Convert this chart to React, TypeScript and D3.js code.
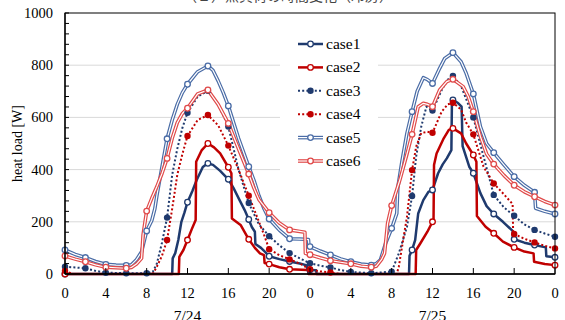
import React from 'react';
import * as d3 from 'd3';

type P = [number, number];

const seriesNames = ['case1', 'case2', 'case3', 'case4', 'case5', 'case6'];
const yTickValues = [0, 200, 400, 600, 800, 1000];
const xTickHours = [0, 4, 8, 12, 16, 20, 24, 28, 32, 36, 40, 44, 48];
const xTickLabels = ['0', '4', '8', '12', '16', '20', '0', '4', '8', '12', '16', '20', '0'];
const dateHours = [12, 36];
const dateLabels = ['7/24', '7/25'];
const titleText = '（２）熱負荷の時間変化（冷房）';
const yAxisTitle = 'heat load [W]';

const case1: P[] = [
  [0, 0], [10.5, 0], [10.55, 60], [10.8, 80], [11.1, 130], [11.4, 200], [11.7, 235], [12, 275], [12.5, 320],
  [12.9, 360], [13.5, 410], [14, 424], [14.5, 418], [15.2, 395], [16, 363], [16.5, 330], [17.1, 283],
  [17.6, 245], [18, 209], [18.3, 180], [18.6, 162], [18.65, 115], [19.2, 100], [19.6, 85], [20, 68],
  [21, 57], [22, 48], [23, 40], [23.7, 33], [23.75, 18], [24, 15], [24.6, 14], [24.65, 0],
  [33.7, 0], [33.75, 70], [34, 92], [34.3, 130], [34.6, 232], [35.1, 283], [35.6, 315], [36, 322],
  [36.55, 386], [37, 420], [37.4, 443], [37.85, 475], [37.9, 650], [38, 667], [38.5, 655], [38.85, 641],
  [38.95, 490], [39.6, 411], [40, 386], [40.7, 309], [41.3, 260], [42, 230], [42.9, 200], [43.85, 165],
  [43.9, 133], [44, 133], [45, 120], [46, 111], [47.1, 102], [47.15, 68], [48, 64],
];

const case2: P[] = [
  [0, 0], [11.15, 0], [11.2, 66], [11.6, 92], [12, 130], [12.4, 170], [12.8, 207], [12.85, 430],
  [13.4, 475], [14, 500], [14.6, 485], [15.2, 462], [16, 409], [16.3, 386], [16.35, 213], [17.2, 188],
  [18, 133], [18.6, 100], [19.1, 79], [19.5, 72], [19.55, 42], [20, 38], [21, 26], [22, 18], [23.8, 15],
  [23.85, 0], [34.35, 0], [34.4, 92], [34.8, 117], [35.5, 162], [36, 200], [36.1, 200], [36.15, 418],
  [36.4, 462], [37.1, 520], [37.6, 552], [38, 558], [38.8, 539], [39.3, 500], [40, 456], [40.3, 430],
  [40.35, 222], [41.2, 181], [42, 156], [42.9, 124], [44, 102], [45, 86], [45.9, 79], [45.95, 47],
  [47, 38], [48, 34],
];

const case3: P[] = [
  [0, 28], [1, 25], [2, 22], [3, 12], [4, 5], [6, 3], [8, 3], [8.6, 8], [9, 40], [9.5, 120], [10, 216],
  [10.5, 380], [11, 480], [11.5, 560], [12, 618], [13, 680], [14, 702], [15, 650], [16, 565], [17, 400],
  [18, 272], [19, 190], [20, 145], [21, 110], [22, 80], [23, 60], [24, 41], [25, 32], [26, 25], [27, 15],
  [28, 8], [30, 3], [32, 9], [32.7, 79], [33.5, 181], [34, 299], [34.4, 450], [34.9, 565], [35.4, 641],
  [36, 626], [36.9, 705], [37.5, 745], [38, 759], [38.8, 720], [39.3, 670], [40, 600], [41, 450],
  [42, 303], [43, 255], [44, 223], [45, 190], [46, 169], [47, 155], [48, 143],
];

const case4: P[] = [
  [0, 12], [0.8, 0], [8.6, 0], [9, 28], [9.5, 70], [10, 130], [10.5, 250], [11, 380], [11.5, 460],
  [12, 529], [13, 590], [14, 609], [15, 570], [16, 492], [17, 400], [18, 300], [18.7, 230], [19.2, 180],
  [19.5, 150], [20, 95], [21, 72], [22, 56], [23, 40], [24, 18], [25, 10], [26, 6], [27, 0], [32.5, 0],
  [32.7, 28], [33, 100], [33.5, 220], [34, 398], [34.4, 488], [34.9, 540], [35.5, 545], [36, 541],
  [36.9, 622], [37.5, 650], [38, 656], [38.8, 630], [39.3, 580], [40, 535], [41, 411], [42, 347],
  [43, 305], [43.85, 268], [43.9, 155], [44, 153], [45, 135], [46, 121], [47, 108], [48, 98],
];

const case5: P[] = [
  [0, 92], [1, 75], [2, 63], [3, 48], [4, 37], [5, 34], [6, 33], [6.5, 35], [7, 55], [7.5, 85], [8, 165],
  [8.5, 205], [8.8, 250], [9, 300], [9.5, 410], [10, 518], [10.5, 590], [11, 650], [11.5, 695], [12, 727],
  [13, 775], [14, 797], [14.5, 780], [15, 740], [15.5, 695], [16, 644], [17, 520], [18, 411], [18.5, 360],
  [19, 300], [19.5, 250], [20, 211], [21, 168], [22, 135], [23, 134], [23.85, 132], [23.9, 107], [24, 105],
  [25, 88], [26, 73], [27, 58], [28, 47], [29, 38], [30, 34], [30.5, 40], [30.9, 54], [31.4, 117],
  [32, 175], [32.5, 232], [32.6, 330], [33, 430], [33.5, 540], [34, 622], [34.5, 700], [35.1, 752],
  [35.5, 745], [36, 730], [36.7, 788], [37.2, 826], [38, 848], [38.8, 813], [39.3, 769], [40, 690],
  [40.7, 564], [41.3, 500], [42, 465], [43, 418], [44, 373], [45, 340], [46, 313], [46.1, 252],
  [47, 240], [48, 230],
];

const case6: P[] = [
  [0, 69], [1, 57], [2, 47], [3, 35], [4, 26], [5, 24], [6, 22], [6.5, 25], [7, 38], [7.5, 60],
  [7.65, 150], [8, 241], [8.5, 290], [9, 335], [9.5, 385], [10, 443], [10.5, 520], [11, 580], [11.5, 615],
  [12, 635], [13, 690], [14, 705], [15, 650], [16, 577], [17, 480], [18, 383], [18.5, 330], [19, 285],
  [20, 235], [21, 195], [22, 169], [23, 163], [23.5, 160], [23.55, 79], [24, 74], [25, 62], [26, 51],
  [27, 45], [28, 39], [29, 30], [30, 26], [30.5, 30], [31, 55], [31.3, 79], [31.6, 194], [32, 262],
  [32.8, 360], [33.5, 460], [34, 535], [34.6, 641], [35.1, 654], [35.5, 650], [36, 641], [36.7, 705],
  [37.4, 737], [38, 746], [39, 718], [39.5, 680], [40, 622], [40.7, 526], [41.3, 460], [42, 421],
  [43, 378], [44, 340], [45, 315], [46, 296], [47, 278], [48, 264],
];

const seriesData: P[][] = [case1, case2, case3, case4, case5, case6];

type Style = { color: string; width: number; dash?: string; filled: boolean; double: boolean };
const styles: Style[] = [
  { color: '#1F3A6E', width: 2.5, filled: false, double: false },
  { color: '#C00000', width: 2.5, filled: false, double: false },
  { color: '#1F3A6E', width: 2, dash: '2 2.2', filled: true, double: false },
  { color: '#C00000', width: 2, dash: '2 2.2', filled: true, double: false },
  { color: '#4A6CA6', width: 3.6, filled: false, double: true },
  { color: '#E04A4A', width: 3.6, filled: false, double: true },
];

const W = 565;
const H = 320;
const L = 65, R = 555, T = 13, B = 274;
const serif = '"Liberation Serif", "Times New Roman", serif';

export default function App() {
  const x = d3.scaleLinear().domain([0, 48]).range([L, R]);
  const y = d3.scaleLinear().domain([0, 1000]).range([B, T]);
  const line = d3.line<P>().x((d) => x(d[0])).y((d) => y(d[1]));
  const minorTicks = d3.range(0, 1001, 40);

  const renderLine = (s: Style, d: string, key: string) =>
    s.double ? (
      <g key={key}>
        <path d={d} fill="none" stroke={s.color} strokeWidth={s.width} strokeLinejoin="round" />
        <path d={d} fill="none" stroke="#fff" strokeWidth={1.2} strokeLinejoin="round" />
      </g>
    ) : (
      <path key={key} d={d} fill="none" stroke={s.color} strokeWidth={s.width}
        strokeDasharray={s.dash} strokeLinejoin="round" />
    );

  const renderMarker = (s: Style, cx: number, cy: number, key: string) =>
    s.filled ? (
      <circle key={key} cx={cx} cy={cy} r={3.2} fill={s.color} />
    ) : (
      <circle key={key} cx={cx} cy={cy} r={2.8} fill="#fff" stroke={s.color} strokeWidth={1.3} />
    );

  const legendX0 = 298, legendX1 = 323, legendY0 = 44, legendDY = 23.4;

  return (
    <svg width={W} height={H} style={{ position: 'fixed', left: 0, top: 0, background: '#fff' }}
      xmlns="http://www.w3.org/2000/svg">
      <rect x={0} y={0} width={W} height={H} fill="#fff" />
      <text x={288} y={0.5} textAnchor="middle" fontSize={14} fill="#444"
        fontFamily='"Noto Sans CJK JP", sans-serif'>{titleText}</text>
      {yTickValues.filter((v) => v > 0 && v < 1000).map((v) => (
        <line key={'g' + v} x1={L} x2={R} y1={y(v)} y2={y(v)} stroke="#d9d9d9" strokeWidth={1} />
      ))}
      <rect x={280} y={30} width={98} height={142} fill="#fff" />
      {seriesData.map((data, i) => renderLine(styles[i], line(data) || '', 'l' + i))}
      {seriesData.map((data, i) => (
        <g key={'m' + i}>
          {data
            .filter((d, j) => d[0] % 2 === 0 && !(j > 0 && data[j - 1][0] === d[0]))
            .map((d, j) => renderMarker(styles[i], x(d[0]), y(d[1]), 'm' + i + '-' + j))}
        </g>
      ))}
      <rect x={L} y={T} width={R - L} height={B - T} fill="none" stroke="#000" strokeWidth={1} />
      <line x1={L} x2={R} y1={B} y2={B} stroke="#000" strokeWidth={1.3} />
      <line x1={L} x2={L} y1={T} y2={B} stroke="#000" strokeWidth={1.3} />
      {minorTicks.map((v) => (
        <line key={'yt' + v} x1={L} x2={L + 4} y1={y(v)} y2={y(v)} stroke="#000" strokeWidth={1} />
      ))}
      {xTickHours.map((h) => (
        <line key={'xt' + h} x1={x(h)} x2={x(h)} y1={B} y2={B - 6} stroke="#000" strokeWidth={1} />
      ))}
      {yTickValues.map((v) => (
        <text key={'yl' + v} x={53} y={y(v) + 5} textAnchor="end" fontSize={14.5} fontFamily={serif} fill="#000">
          {v}
        </text>
      ))}
      {xTickHours.map((h, i) => (
        <text key={'xl' + h} x={x(h)} y={298} textAnchor="middle" fontSize={14.5} fontFamily={serif} fill="#000">
          {xTickLabels[i]}
        </text>
      ))}
      {dateHours.map((h, i) => (
        <text key={'dl' + h} x={x(h)} y={320.5} textAnchor="middle" fontSize={15.5} fontFamily={serif} fill="#000">
          {dateLabels[i]}
        </text>
      ))}
      <text transform={`translate(22,${(T + B) / 2}) rotate(-90)`} textAnchor="middle" fontSize={14}
        fontFamily={serif} fill="#000">{yAxisTitle}</text>
      {seriesNames.map((name, i) => {
        const ly = legendY0 + i * legendDY;
        const s = styles[i];
        return (
          <g key={'lg' + i}>
            {renderLine(s, `M${legendX0},${ly}L${legendX1},${ly}`, 'lgl' + i)}
            {renderMarker(s, (legendX0 + legendX1) / 2, ly, 'lgm' + i)}
            <text x={326} y={ly + 5} fontSize={15.5} fontFamily={serif} fill="#000">{name}</text>
          </g>
        );
      })}
    </svg>
  );
}
